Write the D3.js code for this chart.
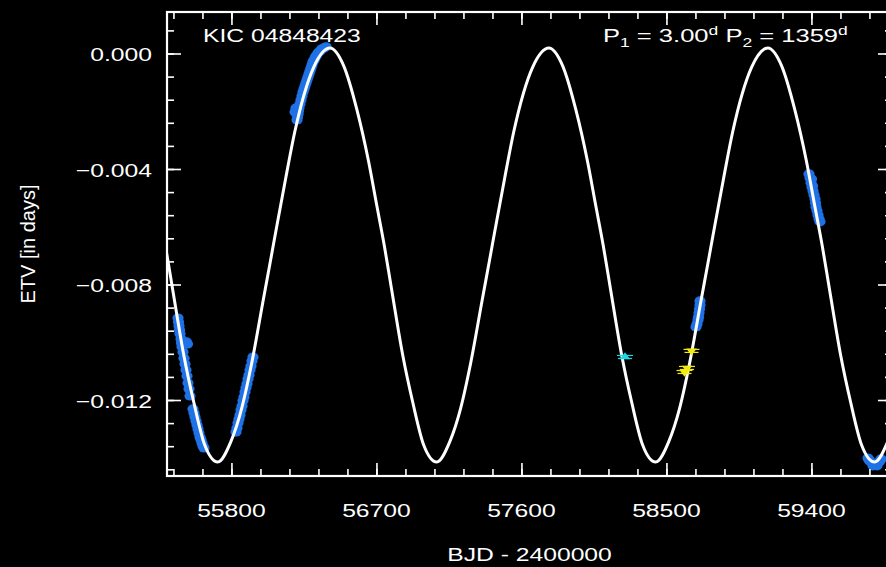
<!DOCTYPE html>
<html>
<head>
<meta charset="utf-8">
<script src="https://cdn.jsdelivr.net/npm/d3@7"></script>
<style>
  html, body { margin: 0; background: #000; }
  svg { display: block; }
  .lbl { font-family: "Liberation Sans", Arial, Helvetica, sans-serif; font-size: 19px; fill: #fff; white-space: pre; }
  .axis line { stroke: #fff; stroke-width: 1.6; }
</style>
</head>
<body>
<div id="chart"></div>
<script>
// ---- data ----
// x: BJD - 2400000, y: ETV in days

// blue ETV points (Kepler + TESS)
const blueTime = [
  55468.3, 55471.4, 55474.5, 55477.6, 55480.7, 55486.9, 55490.0, 55493.1, 55499.3, 55505.5,
  55511.7, 55517.9, 55524.1, 55530.3, 55536.6, 55542.8, 55521.0, 55527.2, 55561.4, 55567.6,
  55573.8, 55580.0, 55586.2, 55592.4, 55598.6, 55604.8, 55611.0, 55617.2, 55623.4, 55629.7,
  55828.3, 55834.5, 55840.7, 55846.9, 55853.1, 55859.3, 55865.5, 55871.7, 55877.9, 55884.1,
  55890.3, 55896.6, 55902.8, 55909.0, 55915.2, 55921.4, 55927.6, 55933.8,
  56194.5, 56200.7, 56206.9, 56210.0, 56213.1, 56216.2, 56219.3, 56225.5, 56231.7, 56237.9,
  56244.1, 56250.3, 56256.6, 56262.8, 56269.0, 56275.2, 56281.4, 56287.6, 56293.8, 56300.0,
  56306.2, 56312.4, 56318.6, 56324.8, 56337.2, 56349.7, 56362.1, 56374.5, 56386.9,
  58708.3, 58708.3, 58705.2, 58702.1, 58699.0, 58695.9, 58689.7, 58683.5,
  59384.8, 59391.0, 59397.2, 59403.4, 59409.7, 59415.9, 59422.1, 59425.2, 59428.3, 59434.5,
  59440.7, 59446.9, 59453.1, 59406.6, 59400.3,
  59751.0, 59757.2, 59763.4, 59775.8, 59782.0, 59788.2, 59800.6, 59806.8, 59813.0, 59825.4, 59831.6
];
const blueEtv = [
  -0.00916, -0.00930, -0.00944, -0.00958, -0.00971, -0.00989, -0.01003, -0.01016, -0.01034, -0.01055,
  -0.01075, -0.01096, -0.01117, -0.01141, -0.01162, -0.01186, -0.00999, -0.01006, -0.01231, -0.01245,
  -0.01259, -0.01273, -0.01287, -0.01300, -0.01314, -0.01328, -0.01338, -0.01349, -0.01359, -0.01366,
  -0.01311, -0.01297, -0.01280, -0.01266, -0.01252, -0.01235, -0.01221, -0.01203, -0.01190, -0.01172,
  -0.01158, -0.01144, -0.01127, -0.01113, -0.01096, -0.01082, -0.01065, -0.01051,
  -0.00203, -0.00189, -0.00230, -0.00220, -0.00210, -0.00199, -0.00189, -0.00175, -0.00161, -0.00147,
  -0.00133, -0.00123, -0.00113, -0.00102, -0.00092, -0.00081, -0.00071, -0.00061, -0.00050, -0.00040,
  -0.00029, -0.00023, -0.00016, -0.00009, 0.00002, 0.00009, 0.00016, 0.00019, 0.00023,
  -0.00857, -0.00871, -0.00885, -0.00899, -0.00913, -0.00923, -0.00937, -0.00947,
  -0.00417, -0.00431, -0.00448, -0.00462, -0.00476, -0.00490, -0.00504, -0.00518, -0.00532, -0.00545,
  -0.00559, -0.00573, -0.00583, -0.00459, -0.00435,
  -0.01401, -0.01408, -0.01411, -0.01418, -0.01428, -0.01421, -0.01421, -0.01428, -0.01418, -0.01411, -0.01404
];

// cyan and yellow single timings
const cyanTime = [58242.8];
const cyanEtv = [-0.01051];
const yellowTime = [58655.5, 58627.6, 58612.1];
const yellowEtv = [-0.01030, -0.01089, -0.01103];

// fitted LTTE curve, read at points along the white line
const curveTime = [
  55218.4, 55292.9, 55342.6, 55389.1, 55435.7, 55504.0, 55566.0, 55634.3, 55715.0, 55795.7,
  55864.0, 55926.0, 55997.4, 56040.9, 56087.4, 56137.1, 56192.9, 56310.9, 56411.7,
  56496.8, 56577.4, 56651.9, 56701.6, 56748.1, 56794.7, 56863.0, 56925.0, 56993.3, 57074.0,
  57154.7, 57223.0, 57285.0, 57356.4, 57399.9, 57446.4, 57496.1, 57551.9, 57669.9, 57770.7,
  57855.8, 57936.4, 58010.9, 58060.6, 58107.1, 58153.7, 58222.0, 58284.0, 58352.3, 58433.0,
  58513.7, 58582.0, 58644.0, 58715.4, 58758.9, 58805.4, 58855.1, 58910.9, 59028.9, 59129.7,
  59214.8, 59295.4, 59369.9, 59419.6, 59466.1, 59512.7, 59581.0, 59643.0, 59711.3, 59792.0,
  59872.7, 59941.0, 60003.0
];
const curveEtv = [
  -0.00192, -0.00376, -0.00525, -0.00663, -0.00819, -0.01044, -0.01207, -0.01356, -0.01415, -0.01345,
  -0.01228, -0.01072, -0.00854, -0.00722, -0.00580, -0.00431, -0.00272, -0.00047, 0.00019,
  -0.00043, -0.00192, -0.00376, -0.00525, -0.00663, -0.00819, -0.01044, -0.01207, -0.01356, -0.01415,
  -0.01345, -0.01228, -0.01072, -0.00854, -0.00722, -0.00580, -0.00431, -0.00272, -0.00047, 0.00019,
  -0.00043, -0.00192, -0.00376, -0.00525, -0.00663, -0.00819, -0.01044, -0.01207, -0.01356, -0.01415,
  -0.01345, -0.01228, -0.01072, -0.00854, -0.00722, -0.00580, -0.00431, -0.00272, -0.00047, 0.00019,
  -0.00043, -0.00192, -0.00376, -0.00525, -0.00663, -0.00819, -0.01044, -0.01207, -0.01356, -0.01415,
  -0.01345, -0.01228, -0.01072
];

// tick labels
const xTicks = [55800, 56700, 57600, 58500, 59400];
const yTicks = [0, -0.004, -0.008, -0.012];

// ---- chart ----
const width = 886, height = 567;
const plot = { left: 167, right: 892, top: 12, bottom: 476 };
const stretch = 1.3; // the reference text is widened horizontally

const svg = d3.select('#chart')
  .append('svg')
  .attr('width', width)
  .attr('height', height)
  .style('background', '#000');

const x = d3.scaleLinear().domain([55400, 59900]).range([plot.left, plot.right]);
const y = d3.scaleLinear().domain([-0.014632, 0.001437]).range([plot.bottom, plot.top]);

svg.append('clipPath').attr('id', 'plot-area')
  .append('rect')
  .attr('x', plot.left).attr('y', plot.top)
  .attr('width', plot.right - plot.left).attr('height', plot.bottom - plot.top);

const g = svg.append('g').attr('clip-path', 'url(#plot-area)');

// blue measured points
g.selectAll('.etv')
  .data(d3.zip(blueTime, blueEtv))
  .join('ellipse')
  .attr('class', 'etv')
  .attr('cx', d => x(d[0]))
  .attr('cy', d => y(d[1]))
  .attr('rx', 5.6)
  .attr('ry', 4.6)
  .attr('fill', '#1f72e6');

// model curve
const line = d3.line()
  .x(d => x(d[0]))
  .y(d => y(d[1]))
  .curve(d3.curveMonotoneX);

g.append('path')
  .datum(d3.zip(curveTime, curveEtv))
  .attr('d', line)
  .attr('fill', 'none')
  .attr('stroke', '#fff')
  .attr('stroke-width', 3);

// small triangle markers with horizontal bars
function addMarkers(times, values, color, rotate) {
  const pts = d3.zip(times, values);
  const m = g.append('g');
  m.selectAll('line.bar1')
    .data(pts).join('line')
    .attr('x1', d => x(d[0]) - 8).attr('x2', d => x(d[0]) + 8)
    .attr('y1', d => y(d[1]) - 1.5).attr('y2', d => y(d[1]) - 1.5)
    .attr('stroke', color).attr('stroke-width', 1.2);
  m.selectAll('line.bar2')
    .data(pts).join('line')
    .attr('x1', d => x(d[0]) - 7).attr('x2', d => x(d[0]) + 7)
    .attr('y1', d => y(d[1]) + 1.5).attr('y2', d => y(d[1]) + 1.5)
    .attr('stroke', color).attr('stroke-width', 1.2);
  m.selectAll('path')
    .data(pts).join('path')
    .attr('d', d3.symbol(d3.symbolTriangle, 28))
    .attr('transform', d => `translate(${x(d[0])},${y(d[1])}) scale(${stretch},1) rotate(${rotate})`)
    .attr('fill', color);
}
addMarkers(cyanTime, cyanEtv, '#19d9e6', 0);
addMarkers(yellowTime, yellowEtv, '#f2ea10', 180);

// ticks on all four sides, pointing inward
const xMinor = d3.range(55440, 59900, 180);
const yMinor = d3.range(-18, 2).map(i => i * 0.0008);

function addTicks(axisFn, scale, shift, values, size) {
  svg.append('g')
    .attr('class', 'axis')
    .attr('transform', shift)
    .call(axisFn(scale).tickValues(values).tickSize(-size).tickSizeOuter(0).tickFormat(''))
    .call(a => a.select('.domain').remove());
}
addTicks(d3.axisBottom, x, `translate(0,${plot.bottom})`, xMinor, 7);
addTicks(d3.axisBottom, x, `translate(0,${plot.bottom})`, xTicks, 13);
addTicks(d3.axisTop, x, `translate(0,${plot.top})`, xMinor, 7);
addTicks(d3.axisTop, x, `translate(0,${plot.top})`, xTicks, 13);
addTicks(d3.axisLeft, y, `translate(${plot.left},0)`, yMinor, 7);
addTicks(d3.axisLeft, y, `translate(${plot.left},0)`, yTicks, 14);
addTicks(d3.axisRight, y, `translate(${plot.right},0)`, yMinor, 7);
addTicks(d3.axisRight, y, `translate(${plot.right},0)`, yTicks, 14);

// frame
svg.append('rect')
  .attr('x', plot.left).attr('y', plot.top)
  .attr('width', plot.right - plot.left).attr('height', plot.bottom - plot.top)
  .attr('fill', 'none').attr('stroke', '#fff').attr('stroke-width', 2.2);

// text helpers
function label(px, py, str, anchor, sx = stretch) {
  return svg.append('text')
    .attr('class', 'lbl')
    .attr('transform', `translate(${px},${py}) scale(${sx},1)`)
    .attr('text-anchor', anchor)
    .text(str);
}

// tick labels
xTicks.forEach(v => label(x(v), 517, d3.format('d')(v), 'middle'));
yTicks.forEach(v => label(152, y(v) + 8, v === 0 ? '0.000' : '\u2212' + d3.format('.3f')(-v), 'end'));

// axis titles
label(529.5, 561, 'BJD - 2400000', 'middle');
svg.append('text')
  .attr('class', 'lbl')
  .attr('transform', 'translate(35,244) rotate(-90)')
  .attr('text-anchor', 'middle')
  .style('font-size', '20px')
  .text('ETV [in days]');

// annotations
label(203, 42, 'KIC 04848423', 'start');

const per = label(603, 42, '', 'start', 1.345);
per.append('tspan').text('P');
per.append('tspan').attr('dy', 5).style('font-size', '13px').text('1');
per.append('tspan').attr('dy', -5).text(' = 3.00');
per.append('tspan').attr('dy', -7).style('font-size', '13px').text('d');
per.append('tspan').attr('dy', 7).text(' P');
per.append('tspan').attr('dy', 5).style('font-size', '13px').text('2');
per.append('tspan').attr('dy', -5).text(' = 1359');
per.append('tspan').attr('dy', -7).style('font-size', '13px').text('d');
</script>
</body>
</html>
